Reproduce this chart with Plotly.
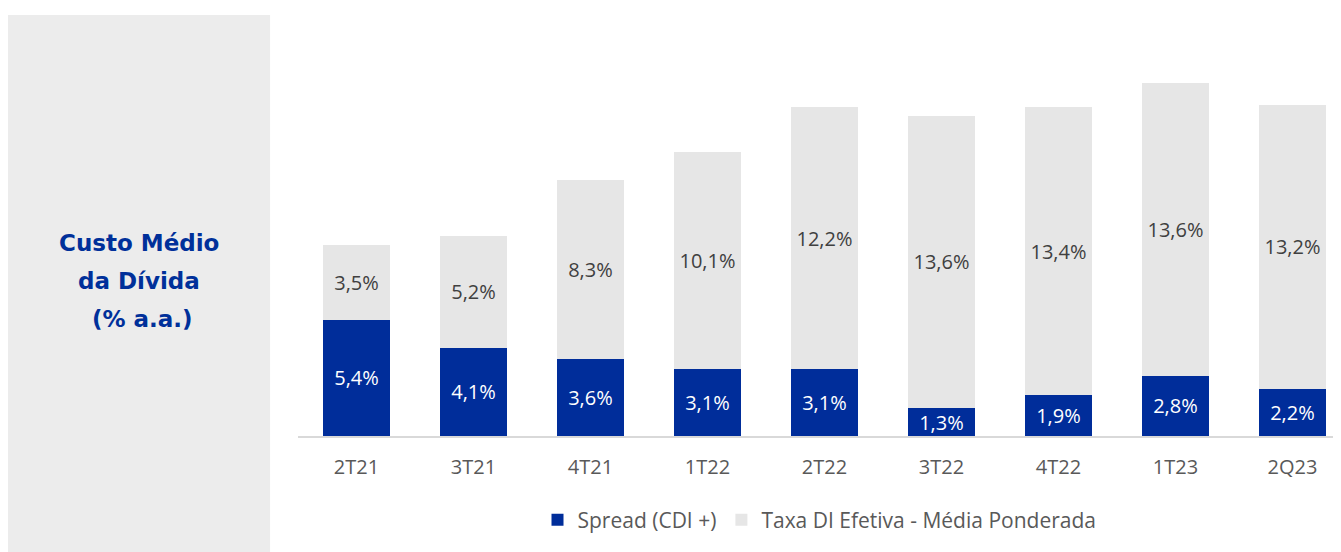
import plotly.graph_objects as go

periodos = ["2T21", "3T21", "4T21", "1T22", "2T22", "3T22", "4T22", "1T23", "2Q23"]
spread = [5.4, 4.1, 3.6, 3.1, 3.1, 1.3, 1.9, 2.8, 2.2]
taxa_di = [3.5, 5.2, 8.3, 10.1, 12.2, 13.6, 13.4, 13.6, 13.2]
titulo = ["Custo Médio", "da Dívida", "\u00a0(% a.a.)"]

azul = "#002D9A"
cinza = "#E6E6E6"
fonte = "Open Sans"

fig = go.Figure()
fig.add_trace(go.Bar(
    x=periodos, y=spread, name="Spread (CDI +)",
    marker=dict(color=azul, line=dict(width=0)),
    texttemplate="%{y:.1f}%", textposition="inside", insidetextanchor="middle",
    textfont=dict(family=fonte, size=20, color="white"), constraintext="none",
))
fig.add_trace(go.Bar(
    x=periodos, y=taxa_di, name="Taxa DI Efetiva - Média Ponderada",
    marker=dict(color=cinza, line=dict(width=0)),
    texttemplate="%{y:.1f}%", textposition="inside", insidetextanchor="middle",
    textfont=dict(family=fonte, size=20, color="#404040"), constraintext="none",
))

# painel cinza a esquerda com o titulo
fig.add_shape(type="rect", xref="paper", yref="paper",
              x0=-0.278, x1=-0.0268, y0=-0.30, y1=1.012,
              fillcolor="#ECECEC", line=dict(width=0), layer="below")
for i, linha in enumerate(titulo):
    fig.add_annotation(text="<b>" + linha + "</b>", xref="paper", yref="paper",
                       x=-0.1525, y=(436 - (243 + 38 * i)) / 416,
                       showarrow=False, xanchor="center", yanchor="middle",
                       font=dict(family="DejaVu Sans", size=23, color="#00309A"))

fig.update_layout(
    width=1333, height=544,
    barmode="stack", bargap=0.42,
    separators=",.",
    plot_bgcolor="white", paper_bgcolor="white",
    margin=dict(l=290, r=0, t=12, b=116),
    showlegend=True,
    legend=dict(orientation="h", x=0.5, y=-0.202, xanchor="center", yanchor="middle",
                font=dict(family=fonte, size=21, color="#595959"),
                itemwidth=30, traceorder="normal"),
    xaxis=dict(range=[-0.5, 8.415], showline=True, linecolor="#D9D9D9", linewidth=1.5,
               ticks="", ticklabelstandoff=12,
               tickfont=dict(family=fonte, size=20, color="#595959"), showgrid=False),
    yaxis=dict(range=[0, 19.35], visible=False, showgrid=False),
)

fig.write_html("out.html")
